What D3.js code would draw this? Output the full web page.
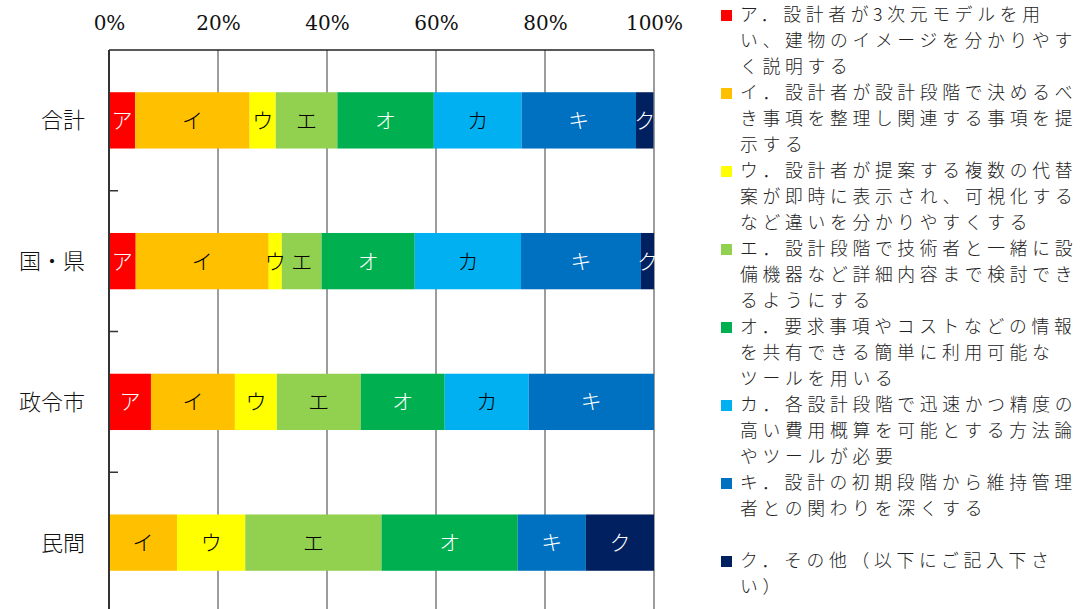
<!DOCTYPE html>
<html>
<head>
<meta charset="utf-8">
<script src="https://cdn.jsdelivr.net/npm/d3@7"></script>
<style>
  body { margin: 0; background: #fff; }
  svg { display: block; }
</style>
</head>
<body>
<svg id="chart"></svg>
<script>
const groups = ["合計", "国・県", "政令市", "民間"];
const keys = ["ア", "イ", "ウ", "エ", "オ", "カ", "キ", "ク"];
const colors = ["#FF0000", "#FFC000", "#FFFF00", "#92D050", "#00B050", "#00B0F0", "#0070C0", "#002060"];
const labelColors = ["#fff", "#000", "#000", "#000", "#fff", "#000", "#fff", "#fff"];

// percentage shares per group, in key order ア..ク
const shareTotal = [4.8, 21.0, 4.8, 11.3, 17.7, 16.1, 21.0, 3.2];
const shareNational = [4.9, 24.4, 2.4, 7.3, 17.1, 19.5, 22.0, 2.4];
const shareCity = [7.7, 15.4, 7.7, 15.4, 15.4, 15.4, 23.0, 0];
const sharePrivate = [0, 12.5, 12.5, 25.0, 25.0, 0, 12.5, 12.5];
const shares = [shareTotal, shareNational, shareCity, sharePrivate];

const xTicks = [0, 20, 40, 60, 80, 100];

const legendLines = [
  ["ア．設計者が3次元モデルを用", "い、建物のイメージを分かりやす", "く説明する"],
  ["イ．設計者が設計段階で決めるべ", "き事項を整理し関連する事項を提", "示する"],
  ["ウ．設計者が提案する複数の代替", "案が即時に表示され、可視化する", "など違いを分かりやすくする"],
  ["エ．設計段階で技術者と一緒に設", "備機器など詳細内容まで検討でき", "るようにする"],
  ["オ．要求事項やコストなどの情報", "を共有できる簡単に利用可能な", "ツールを用いる"],
  ["カ．各設計段階で迅速かつ精度の", "高い費用概算を可能とする方法論", "やツールが必要"],
  ["キ．設計の初期段階から維持管理", "者との関わりを深くする"],
  ["ク．その他（以下にご記入下さ", "い）"]
];

const W = 1080, H = 609;
const plot = { left: 109, right: 654, top: 50, bottom: 613 };
const jp = "'Noto Sans CJK JP', 'Noto Sans', sans-serif";

const svg = d3.select("#chart").attr("width", W).attr("height", H);

const x = d3.scaleLinear().domain([0, 100]).range([plot.left, plot.right]);
const y = d3.scaleBand().domain(groups).range([plot.top, plot.bottom]).paddingInner(0.6).paddingOuter(0.3);
const yOuter = d3.scaleBand().domain(groups).range([plot.top, plot.bottom]);

// gridlines
svg.append("g")
  .selectAll("line")
  .data(xTicks.slice(1))
  .join("line")
  .attr("x1", d => x(d)).attr("x2", d => x(d))
  .attr("y1", plot.top).attr("y2", plot.bottom)
  .attr("stroke", "#3a3a3a").attr("stroke-width", 1);

// top border
svg.append("line")
  .attr("x1", plot.left).attr("x2", plot.right)
  .attr("y1", plot.top).attr("y2", plot.top)
  .attr("stroke", "#222").attr("stroke-width", 1.5);

// stacked bars
const rows = groups.map((g, i) => {
  let acc = 0;
  return shares[i].map((v, k) => {
    const seg = { group: g, key: keys[k], k: k, x0: acc, x1: acc + v };
    acc += v;
    return seg;
  });
});

const rowG = svg.append("g")
  .selectAll("g")
  .data(rows)
  .join("g");

rowG.selectAll("rect")
  .data(d => d.filter(s => s.x1 > s.x0))
  .join("rect")
  .attr("x", d => x(d.x0))
  .attr("y", d => y(d.group))
  .attr("width", d => x(d.x1) - x(d.x0))
  .attr("height", y.bandwidth())
  .attr("fill", d => colors[d.k]);

rowG.selectAll("text")
  .data(d => d.filter(s => s.x1 > s.x0))
  .join("text")
  .attr("x", d => (x(d.x0) + x(d.x1)) / 2)
  .attr("y", d => y(d.group) + y.bandwidth() / 2)
  .attr("dy", "0.36em")
  .attr("text-anchor", "middle")
  .attr("font-family", jp)
  .attr("font-size", 21)
  .attr("font-weight", 300)
  .attr("fill", d => labelColors[d.k])
  .text(d => d.key);

// left axis with category ticks
svg.append("line")
  .attr("x1", plot.left).attr("x2", plot.left)
  .attr("y1", plot.top).attr("y2", plot.bottom)
  .attr("stroke", "#333").attr("stroke-width", 2);

svg.append("g")
  .selectAll("line")
  .data(groups.slice(1))
  .join("line")
  .attr("x1", plot.left).attr("x2", plot.left + 9)
  .attr("y1", d => yOuter(d)).attr("y2", d => yOuter(d))
  .attr("stroke", "#333").attr("stroke-width", 1.5);

svg.append("g")
  .selectAll("text")
  .data(groups)
  .join("text")
  .attr("x", 85)
  .attr("y", d => yOuter(d) + yOuter.bandwidth() / 2)
  .attr("dy", "0.36em")
  .attr("text-anchor", "end")
  .attr("font-family", jp)
  .attr("font-size", 22)
  .attr("font-weight", 300)
  .attr("fill", "#111")
  .text(d => d);

// top axis labels
const xAxis = d3.axisTop(x).tickValues(xTicks).tickSize(0).tickPadding(0).tickFormat(d => d + "%");
const ax = svg.append("g").attr("transform", "translate(0,30)").call(xAxis);
ax.select(".domain").remove();
ax.selectAll("text")
  .attr("font-family", "'DejaVu Serif', 'Liberation Serif', serif")
  .attr("font-size", 20)
  .attr("fill", "#111");

// legend
const legend = svg.append("g")
  .selectAll("g")
  .data(legendLines)
  .join("g")
  .attr("transform", (d, i) => `translate(721,${15 + i * 78})`);

legend.append("rect")
  .attr("x", 0).attr("y", -5)
  .attr("width", 11).attr("height", 11)
  .attr("fill", (d, i) => colors[i]);

legend.selectAll("text")
  .data(d => d)
  .join("text")
  .attr("x", 19)
  .attr("y", (d, j) => j * 26)
  .attr("dy", "0.36em")
  .attr("font-family", jp)
  .attr("font-size", 17.8)
  .attr("font-weight", 300)
  .attr("letter-spacing", "4.7px")
  .attr("fill", "#222")
  .text(d => d);
</script>
</body>
</html>
